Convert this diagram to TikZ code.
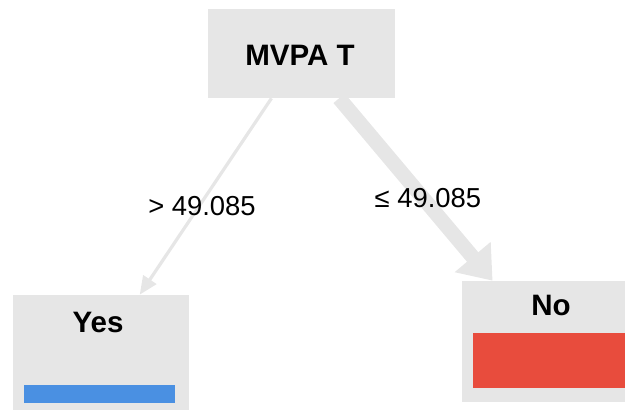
\documentclass[tikz,border=0pt]{standalone}
\usepackage{fontspec}
\setmainfont{Liberation Sans}
\usetikzlibrary{positioning,arrows.meta}

\definecolor{boxgray}{RGB}{230,230,230}
\definecolor{leafblue}{RGB}{74,144,226}
\definecolor{leafred}{RGB}{232,76,61}

\begin{document}
\begin{tikzpicture}[
        x=0.025cm, y=-0.025cm,
        box/.style={fill=boxgray, inner sep=0pt},
        bar/.style={inner sep=0pt},
        titlestyle/.style={inner sep=0pt, font=\fontsize{21}{25}\selectfont\bfseries},
        labelstyle/.style={inner sep=0pt, font=\fontsize{19.5}{23}\selectfont},
        thinarrow/.style={draw=boxgray, line width=2.3pt, -{Triangle[length=13pt,width=11pt]}},
        thickarrow/.style={draw=boxgray, line width=10.5pt, -{Triangle[length=22pt,width=32pt]}}
    ]

    \useasboundingbox (0,0) rectangle (627,412);

    % --- Boxes ---
    \node[box, minimum width=4.675cm, minimum height=2.225cm] (root) at (301.5,53.5) {};
    \node[box, minimum width=4.4cm, minimum height=2.875cm] (yes) at (101,352.5) {};
    \node[box, minimum width=4.075cm, minimum height=3.025cm] (no) at (543.5,341.5) {};

    % --- Box texts ---
    \node[titlestyle] (roottext) at (300,55) {MVPA T};
    \node[titlestyle] (yestext) at (98,322) {Yes};
    \node[titlestyle] (notext) at (551,305) {No};

    % --- Class bars ---
    \node[bar, fill=leafblue, minimum width=3.775cm, minimum height=0.45cm] (yesbar) at (99.5,394) {};
    \node[bar, fill=leafred, minimum width=3.8cm, minimum height=1.375cm] (nobar) at (549,360.5) {};

    % --- Edges ---
    \draw[thinarrow] (root) -- (yes);
    \draw[thickarrow] (root) -- (no);

    % --- Edge labels ---
    \node[labelstyle] (gtlabel) at (202,206) {> 49.085};
    \node[labelstyle] (lelabel) at (428,198) {≤ 49.085};

\end{tikzpicture}
\end{document}
